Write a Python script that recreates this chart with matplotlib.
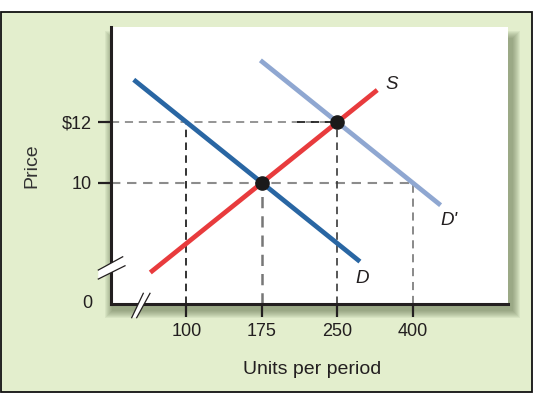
import matplotlib
matplotlib.use('Agg')
import matplotlib.pyplot as plt
from matplotlib.patches import Rectangle, Polygon

plt.rcParams['font.family'] = ['Liberation Sans', 'DejaVu Sans']

# quantity tick labels and their (schematic) positions on the broken x axis
quantities = [100, 175, 250, 400]
q_pos = [1, 2, 3, 4]
# price tick labels and their positions on the broken y axis
price_labels = ['10', '$12']
p_pos = [2, 3]

# curves, in axis units
demand_x = [0.30, 3.30]
demand_y = [3.70, 0.70]
demand2_x = [1.98, 4.37]
demand2_y = [4.02, 1.63]
supply_x = [0.52, 3.53]
supply_y = [0.52, 3.53]

# equilibria: (175, $10) and (250, $12)
eq_x = [2, 3]
eq_y = [2, 3]

dark_blue = '#2966a3'
light_blue = '#8fa7d1'
red = '#e83b3d'
ink = '#231f20'
bg = '#e3eecd'

W, H = 544, 399
fig = plt.figure(figsize=(W / 100, H / 100), dpi=100)
fig.patch.set_facecolor('white')

# green panel with black border
fig.add_artist(Rectangle((1 / W, 7 / H), 531 / W, 380.5 / H, transform=fig.transFigure,
                         facecolor=bg, edgecolor='#111111', lw=1.3, zorder=-2))

ax_l, ax_r, ax_t, ax_b = 111.1, 507.7, 27.3, 304.0
ax = fig.add_axes([ax_l / W, (H - ax_b) / H, (ax_r - ax_l) / W, (ax_b - ax_t) / H])

# soft drop shadow behind the white plot area
for i in range(8):
    g = 9 - i
    fig.add_artist(Rectangle(((ax_l + 3 - g) / W, (H - ax_b - 5 - g) / H),
                             (ax_r - ax_l + 2 * g) / W, (ax_b - ax_t + 2 * g - 8) / H,
                             transform=fig.transFigure, facecolor='#4f5f3a',
                             edgecolor='none', alpha=0.075, zorder=-1))

ax.set_facecolor('white')
ax.set_xlim(0, 5.26)
ax.set_ylim(0, 4.565)

for s in ['top', 'right']:
    ax.spines[s].set_visible(False)
for s in ['left', 'bottom']:
    ax.spines[s].set_linewidth(2.2)
    ax.spines[s].set_color(ink)

ax.set_xticks(q_pos)
ax.set_xticklabels([str(q) for q in quantities])
ax.set_yticks(p_pos)
ax.set_yticklabels(price_labels)
ax.tick_params(direction='out', length=9.5, width=1.6, color=ink, labelsize=13,
               labelcolor=ink, pad=4.3)
ax.text(-0.316, 0, '0', ha='center', va='center', fontsize=13, color=ink, clip_on=False)

# dashed guide lines
dash = (4.5, 3.2)
gray = '#8c8c8c'
ax.plot([0, q_pos[2]], [p_pos[1], p_pos[1]], color=gray, lw=1.3, dashes=dash, zorder=2)
ax.plot([2.47, q_pos[2]], [p_pos[1], p_pos[1]], color='#222222', lw=1.3, dashes=dash, zorder=2)
ax.plot([0, q_pos[3]], [p_pos[0], p_pos[0]], color=gray, lw=1.5, dashes=dash, zorder=2)
ax.plot([q_pos[0], q_pos[0]], [0, p_pos[1]], color='#111111', lw=1.2, dashes=dash, zorder=2)
ax.plot([q_pos[1], q_pos[1]], [0, p_pos[0]], color='#777777', lw=1.8, dashes=dash, zorder=2)
ax.plot([q_pos[2], q_pos[2]], [0, p_pos[1]], color='#3a3a3a', lw=1.2, dashes=dash, zorder=2)
ax.plot([q_pos[3], q_pos[3]], [0, p_pos[0]], color='#808080', lw=1.3, dashes=dash, zorder=2)

# curves
ax.plot(demand2_x, demand2_y, color=light_blue, lw=3.4, solid_capstyle='butt', zorder=3)
ax.plot(demand_x, demand_y, color=dark_blue, lw=3.4, solid_capstyle='butt', zorder=3)
ax.plot(supply_x, supply_y, color=red, lw=3.4, solid_capstyle='butt', zorder=3)
ax.plot(eq_x, eq_y, 'o', color='#1a1a1a', markersize=9.5, zorder=5)

lab = dict(fontsize=13.5, style='italic', color=ink, ha='center', va='center')
ax.text(3.72, 3.62, 'S', **lab)
ax.text(3.33, 0.42, 'D', **lab)
ax.text(4.48, 1.38, "D'", **lab)

ax.text(-1.05, 2.29, 'Price', rotation=90, ha='center', va='center', fontsize=14,
        color='#333333', clip_on=False)
ax.text(2.66, -1.076, 'Units per period', ha='center', va='center', fontsize=14,
        color=ink, clip_on=False)

# axis break marks
px = 1 / 75.4
py = 1 / 60.7
# y axis: two parallel slashes with a gap in the spine
yb1 = [(98.3, 270.0), (122.7, 256.7)]
yb2 = [(98.3, 279.0), (125.0, 265.7)]
def to_data(pt):
    return ((pt[0] - ax_l) * px, (ax_b - pt[1]) * py)
gap = [to_data(yb1[0]), to_data(yb1[1]), to_data(yb2[1]), to_data(yb2[0])]
ax.add_patch(Polygon(gap, closed=True, facecolor='white', edgecolor='none',
                     clip_on=False, zorder=6))
for seg in (yb1, yb2):
    a, b = to_data(seg[0]), to_data(seg[1])
    ax.plot([a[0], b[0]], [a[1], b[1]], color=ink, lw=0.9, clip_on=False, zorder=7)
# x axis
xb1 = [(131.7, 317.7), (143.3, 293.3)]
xb2 = [(136.7, 317.7), (150.0, 293.3)]
gap = [to_data(xb1[0]), to_data(xb1[1]), to_data(xb2[1]), to_data(xb2[0])]
ax.add_patch(Polygon(gap, closed=True, facecolor='white', edgecolor='none',
                     clip_on=False, zorder=6))
for seg in (xb1, xb2):
    a, b = to_data(seg[0]), to_data(seg[1])
    ax.plot([a[0], b[0]], [a[1], b[1]], color=ink, lw=0.9, clip_on=False, zorder=7)

fig.savefig('out.png', dpi=100)
